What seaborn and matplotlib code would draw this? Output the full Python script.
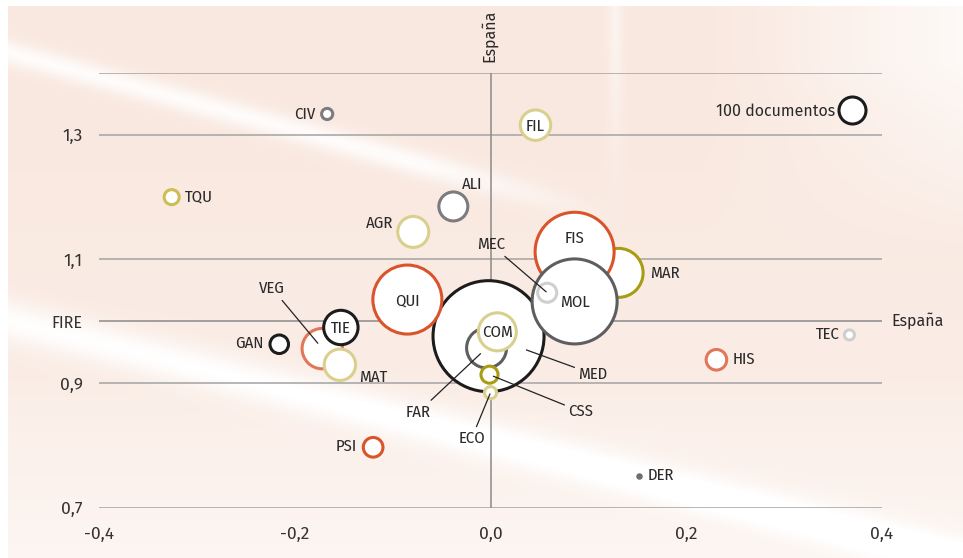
import numpy as np
import pandas as pd
import matplotlib
matplotlib.use("Agg")
import matplotlib.pyplot as plt
import seaborn as sns

# ---------------- data ----------------
areas = ["MED", "MAR", "FIS", "MOL", "MEC", "QUI", "FAR", "COM", "CSS", "ECO",
         "VEG", "TIE", "MAT", "GAN", "PSI", "CIV", "TQU", "ALI", "AGR", "FIL",
         "TEC", "HIS"]
rel_x = [-0.002, 0.131, 0.086, 0.086, 0.058, -0.085, -0.004, 0.007, -0.001, 0.000,
         -0.172, -0.153, -0.154, -0.216, -0.120, -0.167, -0.326, -0.038, -0.079, 0.046,
         0.367, 0.231]
fire = [0.976, 1.078, 1.112, 1.032, 1.046, 1.035, 0.957, 0.983, 0.914, 0.885,
        0.956, 0.990, 0.930, 0.963, 0.797, 1.334, 1.200, 1.185, 1.144, 1.316,
        0.978, 0.938]
docs = [1690, 329, 856, 991, 50, 653, 219, 198, 40, 20,
        224, 162, 135, 47, 53, 17, 31, 115, 132, 127,
        14, 58]
group = ["black", "olive", "red", "dgray", "lgray", "red", "dgray", "pale", "olive", "pale",
         "salmon", "black", "pale", "black", "red", "gray", "yellow", "gray", "pale", "pale",
         "lgray", "salmon"]

# the tiny filled point
der_x = [0.152]
der_y = [0.750]

x_ticks = [-0.4, -0.2, 0.0, 0.2, 0.4]
x_tick_labels = ["-0,4", "-0,2", "0,0", "0,2", "0,4"]
y_ticks = [0.7, 0.9, 1.0, 1.1, 1.3]
y_tick_labels = ["0,7", "0,9", "FIRE", "1,1", "1,3"]
grid_y = [0.7, 0.9, 1.1, 1.3, 1.4]
legend_docs = 100

# ---------------- style ----------------
palette = {"black": "#1c1c1c", "olive": "#a89c12", "red": "#d9532b", "dgray": "#5e5e60",
           "lgray": "#cfcfcf", "pale": "#d9d08e", "salmon": "#e07758", "gray": "#7b7b80",
           "yellow": "#ccbd55"}

# label layout: (dx px, dy px, ha, leader shrink pt or None)
layout = {
    "CIV": (-12, 0, "right", None), "TQU": (13, 0, "left", None),
    "ALI": (9, 22, "left", None), "AGR": (-20, 9, "right", None),
    "FIL": (0, -1, "center", None), "FIS": (0, 13, "center", None),
    "MAR": (31, 0, "left", None), "MEC": (-56, 48, "center", 1),
    "MOL": (0, -1, "center", None), "QUI": (0, -1, "center", None),
    "COM": (0, 0, "center", None), "MED": (90, -38, "left", 29),
    "FAR": (-68, -64, "center", 6), "CSS": (79, -37, "left", 3),
    "ECO": (-19, -46, "center", 1), "VEG": (-50, 60, "center", 5),
    "TIE": (0, -1, "center", None), "GAN": (-16, 1, "right", None),
    "MAT": (19, -13, "left", None), "PSI": (-16, 1, "right", None),
    "TEC": (-10, 1, "right", None), "HIS": (16, 0, "left", None),
}

W, H, DPI = 963, 558, 100
fig = plt.figure(figsize=(W / DPI, H / DPI), dpi=DPI)

# ---- background (decorative photo-like texture) ----
yy, xx = np.mgrid[0:H, 0:W].astype(float)
base = np.array([249, 232, 223], float) / 255
img = np.ones((H, W, 3)) * base
white = np.ones(3)
t = np.clip((xx - 700) / 260, 0, 1) * np.clip((260 - yy) / 200, 0, 1)
lw = 0.75 * t
d1 = np.abs(yy - (50 + 0.27 * xx)); band1 = np.exp(-(d1 / 13) ** 2) * np.clip((620 - xx) / 200, 0, 1)
d2 = np.abs(yy - (318 + 0.25 * xx)); band2 = np.exp(-(d2 / 20) ** 2) * 0.8
d3 = np.abs(xx - 615); band3 = np.exp(-(d3 / 8) ** 2) * np.clip((230 - yy) / 200, 0, 1) * 0.5
soft = np.clip((yy - 380) / 180, 0, 1) * 0.35 + np.clip((yy - 120) / 300, 0, 1) * 0.25
mix = np.clip(lw + band1 * 0.85 + band2 + band3 + soft, 0, 1)
img = img * (1 - mix[..., None]) + white * mix[..., None]
img[:6, :, :] = 1.0
img[:, :8, :] = 1.0
bg = fig.add_axes([0, 0, 1, 1], zorder=0)
bg.imshow(img, aspect="auto", extent=(0, W, H, 0))
bg.set_axis_off()

# ---- main axes ----
x0, x1 = 99.3, 881.7
y0, y1 = 507.5, 73.0
ax = fig.add_axes([x0 / W, (H - y0) / H, (x1 - x0) / W, (y0 - y1) / H], zorder=1)
ax.set_facecolor("none")
ax.set_xlim(-0.4, 0.4)
ax.set_ylim(0.7, 1.4)
for s in ax.spines.values():
    s.set_visible(False)

for gy in grid_y:
    ax.axhline(gy, color="#a3a3a3", lw=1.1, zorder=1)
ax.axhline(1.0, color="#8a8a8a", lw=1.1, zorder=1)
ax.axvline(0.0, color="#8a8a8a", lw=1.1, zorder=1)

df = pd.DataFrame({"area": areas, "x": rel_x, "y": fire, "docs": docs, "group": group})
dmax = 2000
smax = dmax * 3.78
sns.scatterplot(data=df, x="x", y="y", size="docs", sizes=(0, smax), size_norm=(0, dmax),
                legend=False, ax=ax, zorder=3, clip_on=False)
coll = ax.collections[-1]
coll.set_facecolor("white")
coll.set_edgecolor([palette[g] for g in df["group"]])
coll.set_linewidth(2.2)

sns.scatterplot(x=der_x, y=der_y, color="#6e6e72", s=22, linewidth=0, ax=ax, zorder=3,
                legend=False)

lab_font = dict(family=["Fira Sans Condensed", "DejaVu Sans"], size=12, color="#2a2a2a")
main_font = ["Fira Sans", "DejaVu Sans"]
for a, px, py in zip(df["area"], df["x"], df["y"]):
    dx, dy, ha, shrink = layout[a]
    if shrink is None:
        ax.annotate(a, (px, py), xytext=(dx, dy), textcoords="offset pixels",
                    ha=ha, va="center", zorder=5, **lab_font)
    else:
        ax.annotate(a, (px, py), xytext=(dx, dy), textcoords="offset pixels",
                    ha=ha, va="center", zorder=5,
                    arrowprops=dict(arrowstyle="-", color="#222222", lw=0.9,
                                    shrinkA=1, shrinkB=shrink), **lab_font)
ax.annotate("DER", (der_x[0], der_y[0]), xytext=(8, 1), textcoords="offset pixels",
            ha="left", va="center", zorder=5, **lab_font)

# legend bubble
ax.scatter([0.962], [0.915], s=legend_docs * smax / dmax, facecolor="white",
           edgecolor="#1c1c1c", linewidth=2.2, transform=ax.transAxes, zorder=4, clip_on=False)
ax.text(0.940, 0.912, f"{legend_docs} documentos", transform=ax.transAxes, ha="right",
        va="center", family=main_font, fontsize=11.5, color="#2a2a2a")

# axis labels "España"
ax.annotate("España", (0.0, 1.4), xytext=(-2, 11), textcoords="offset pixels", rotation=90,
            ha="center", va="bottom", family=main_font, fontsize=11.5, color="#2a2a2a")
ax.annotate("España", (0.4, 1.0), xytext=(10, 1), textcoords="offset pixels",
            ha="left", va="center", family=main_font, fontsize=11.5, color="#2a2a2a",
            annotation_clip=False)

ax.set_xticks(x_ticks)
ax.set_xticklabels(x_tick_labels)
ax.set_yticks(y_ticks)
ax.set_yticklabels(y_tick_labels)
ax.tick_params(axis="x", length=0, pad=13.5, labelsize=12.5, labelcolor="#333333")
ax.tick_params(axis="y", length=0, pad=12, labelsize=12.5, labelcolor="#333333")
for t_ in ax.get_xticklabels() + ax.get_yticklabels():
    t_.set_family(main_font)
ax.get_yticklabels()[2].set_fontsize(11.5)
ax.set_xlabel("")
ax.set_ylabel("")

fig.savefig("out.png", dpi=DPI)
